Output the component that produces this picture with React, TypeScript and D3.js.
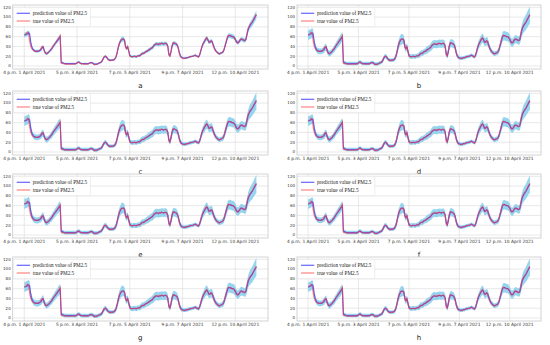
import React from "react";
import * as d3 from "d3";

const trueValues: number[] = [
  64,65,66,69,67,52,41,36,33,31,
  30,30,30,31,31,33,37,40,38,30,
  26,25,27,29,31,34,36,40,43,46,
  49,52,55,58,62,6,5,5,5,4,
  4,4,4,4,4,4,4,4,4,5,
  7,8,7,5,5,5,4,4,4,4,
  4,5,6,7,7,5,3,3,3,4,
  5,6,7,9,12,17,20,20,18,14,
  12,11,11,12,12,13,15,20,28,38,
  46,51,54,55,55,52,38,35,40,30,
  20,19,19,19,20,19,19,20,21,20,
  22,25,26,25,27,29,30,31,33,34,
  36,37,40,43,44,46,45,44,46,45,
  47,46,45,46,47,45,40,22,20,30,
  42,48,47,46,45,42,35,25,19,17,
  16,15,15,16,17,17,18,19,19,20,
  20,21,22,20,19,18,22,30,38,44,
  48,52,56,58,53,48,49,52,50,42,
  36,32,29,27,25,25,26,27,28,32,
  40,48,56,62,63,62,61,60,60,58,
  54,49,47,48,52,55,55,54,52,52,
  55,66,76,80,84,87,90,94,98,102,106,
];

const predValues: number[] = [
  63,64,65,66,68,66,50,40,35,32,
  31,30,30,30,31,32,34,38,39,31,
  27,25,26,28,30,33,35,39,42,45,
  48,51,54,57,60,8,7,6,5,5,
  5,5,5,5,5,5,5,5,5,5,
  6,8,8,6,5,5,5,5,5,5,
  5,5,6,7,7,6,4,4,4,4,
  5,6,7,8,11,16,19,20,18,15,
  13,12,12,12,12,13,15,19,27,37,
  45,50,54,55,55,53,40,36,39,31,
  22,20,19,19,20,20,19,20,21,21,
  22,24,26,26,27,29,30,31,33,34,
  36,37,39,42,44,45,45,44,45,45,
  46,46,45,46,46,45,41,25,21,28,
  40,46,47,46,45,43,37,27,21,18,
  17,16,16,16,17,17,18,19,19,20,
  20,21,22,21,20,19,21,28,36,43,
  47,51,55,57,54,49,49,51,50,44,
  38,33,30,28,26,25,26,27,28,31,
  38,46,54,60,62,62,61,60,60,58,
  55,50,48,48,51,54,55,54,53,52,
  54,63,73,79,83,86,89,93,97,101,104,
];

const bandHalfWidth: number[] = [
  8,8,8,8,8,7,6,6,5,5,
  5,5,5,5,5,5,6,6,6,5,
  5,5,5,5,5,5,6,6,6,7,
  7,7,8,8,8,4,3,3,3,3,
  3,3,3,3,3,3,3,3,3,3,
  3,3,3,3,3,3,3,3,3,3,
  3,3,3,3,3,3,3,3,3,3,
  3,3,3,3,4,4,4,4,4,3,
  3,3,3,3,3,3,4,5,6,7,
  8,8,9,9,8,8,7,6,6,5,
  4,4,4,4,4,4,4,4,4,4,
  5,5,5,5,5,5,5,6,6,6,
  6,6,7,7,7,7,7,7,7,7,
  7,7,7,7,7,7,6,5,5,6,
  7,7,7,7,7,6,6,5,4,4,
  3,3,3,3,3,3,3,3,3,3,
  3,3,3,3,3,3,4,5,6,7,
  7,8,8,8,7,7,7,7,7,6,
  5,5,4,4,4,4,4,4,5,5,
  6,7,8,8,8,8,8,8,8,8,
  8,7,7,7,7,7,7,7,7,7,
  8,9,10,11,12,12,13,13,14,14,15,
];

const panelLetters = ["a", "b", "c", "d", "e", "f", "g", "h"];
const panelBandScale = [0.6, 1.2, 1.2, 1.2, 1.25, 1.2, 1.25, 1.2];

const xTickIndex = [0, 50, 100, 150, 200];
const xTickLabels = [
  "4 p.m. 1 April 2021",
  "5 p.m. 3 April 2021",
  "7 p.m. 5 April 2021",
  "9 p.m. 7 April 2021",
  "12 p.m. 10 April 2021",
];
const yTicks = [0, 20, 40, 60, 80, 100, 120];

const legendLabels = ["prediction value of PM2.5", "true value of PM2.5"];

const W = 550;
const H = 345;
const colLeft = [12.7, 297];
const colRight = [268, 541];
const rowTop = [5, 91, 174, 257];
const boxH = 64;

const sans = "'DejaVu Sans', sans-serif";
const serif = "'Liberation Serif', 'Times New Roman', serif";

function Panel({ idx }: { idx: number }) {
  const col = idx % 2;
  const row = Math.floor(idx / 2);
  const x0 = colLeft[col];
  const x1 = colRight[col];
  const y0 = rowTop[row];
  const y1 = y0 + boxH;
  const n = trueValues.length;
  const x = d3.scaleLinear().domain([-0.05 * (n - 1), 1.05 * (n - 1)]).range([x0, x1]);
  const y = d3.scaleLinear().domain([-6.1, 124.7]).range([y1, y0]);
  const s = panelBandScale[idx];
  const idxs = d3.range(n);
  const area = d3
    .area<number>()
    .x((i) => x(i))
    .y0((i) => y(predValues[i] - bandHalfWidth[i] * s))
    .y1((i) => y(predValues[i] + bandHalfWidth[i] * s));
  const predLine = d3.line<number>().x((i) => x(i)).y((i) => y(predValues[i]));
  const trueLine = d3.line<number>().x((i) => x(i)).y((i) => y(trueValues[i]));
  const clipId = `clip-${idx}`;
  return (
    <g>
      <defs>
        <clipPath id={clipId}>
          <rect x={x0} y={y0} width={x1 - x0} height={boxH} />
        </clipPath>
      </defs>
      <rect x={x0} y={y0} width={x1 - x0} height={boxH} fill="#ffffff" />
      {yTicks.map((t) => (
        <line key={"gy" + t} x1={x0} x2={x1} y1={y(t)} y2={y(t)} stroke="#e0e0e0" strokeWidth={0.7} />
      ))}
      {xTickIndex.map((t) => (
        <line key={"gx" + t} x1={x(t)} x2={x(t)} y1={y0} y2={y1} stroke="#e0e0e0" strokeWidth={0.7} />
      ))}
      <g clipPath={`url(#${clipId})`}>
        <path d={area(idxs) || ""} fill="#8ccfec" fillOpacity={0.9} stroke="none" />
        <path d={predLine(idxs) || ""} fill="none" stroke="#4a4aff" strokeOpacity={0.85} strokeWidth={1.2} />
        <path d={trueLine(idxs) || ""} fill="none" stroke="#ff3030" strokeOpacity={0.6} strokeWidth={1.2} />
      </g>
      <rect x={x0} y={y0} width={x1 - x0} height={boxH} fill="none" stroke="#c8c8c8" strokeWidth={0.8} />
      {yTicks.map((t) => (
        <text key={"ty" + t} x={x0 - 2} y={y(t) + 1.4} fontSize={4} fontFamily={sans} fill="#333" textAnchor="end">
          {t}
        </text>
      ))}
      {xTickIndex.map((t, i) => (
        <text key={"tx" + t} x={x(t)} y={y1 + 5} fontSize={4.4} fontFamily={sans} fill="#333" textAnchor="middle">
          {xTickLabels[i]}
        </text>
      ))}
      <rect x={x0 + 0.8} y={y0 + 2.3} width={77} height={19.4} rx={1.5} fill="#ffffff" fillOpacity={0.85} stroke="#dddddd" strokeWidth={0.5} />
      <line x1={x0 + 4} x2={x0 + 17.3} y1={y0 + 8.3} y2={y0 + 8.3} stroke="#4a4aff" strokeOpacity={0.85} strokeWidth={1.2} />
      <line x1={x0 + 4} x2={x0 + 17.3} y1={y0 + 16} y2={y0 + 16} stroke="#ff3030" strokeOpacity={0.6} strokeWidth={1.2} />
      <text x={x0 + 20} y={y0 + 10} fontSize={5.2} fontFamily={serif} fill="#222">
        {legendLabels[0]}
      </text>
      <text x={x0 + 20} y={y0 + 17.7} fontSize={5.2} fontFamily={serif} fill="#222">
        {legendLabels[1]}
      </text>
      <text x={(x0 + x1) / 2} y={y1 + 18.5} fontSize={7} fontFamily={sans} fill="#222" textAnchor="middle">
        {panelLetters[idx]}
      </text>
    </g>
  );
}

export default function App() {
  return (
    <svg
      width={W}
      height={H}
      viewBox={`0 0 ${W} ${H}`}
      style={{ position: "absolute", left: 0, top: 0, background: "#fff" }}
    >
      <rect x={0} y={0} width={W} height={H} fill="#fff" />
      {panelLetters.map((_, i) => (
        <Panel key={i} idx={i} />
      ))}
    </svg>
  );
}
